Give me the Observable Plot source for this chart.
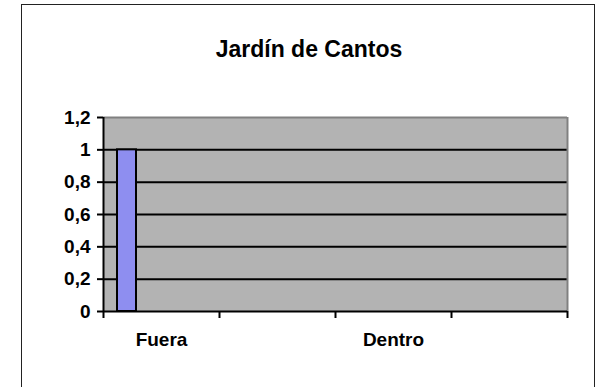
<!DOCTYPE html>
<html>
<head>
<meta charset="utf-8">
<script src="https://cdn.jsdelivr.net/npm/d3@7"></script>
<script src="https://cdn.jsdelivr.net/npm/@observablehq/plot@0.6"></script>
<style>
  html, body { margin: 0; padding: 0; background: #fff; }
  #wrap { position: relative; width: 602px; height: 387px; overflow: hidden; font-family: Arial, "Liberation Sans", sans-serif; }
  #frame { position: absolute; left: 21px; top: 4px; width: 574px; height: 420px; border: 1.5px solid #222; box-sizing: border-box; }
  #title { position: absolute; left: 22px; width: 574px; top: 36px; text-align: center; font-weight: bold; font-size: 23px; color: #000; }
  #chart { position: absolute; left: 0; top: 0; }
</style>
</head>
<body>
<div id="wrap">
  <div id="frame"></div>
  <div id="title">Jardín de Cantos</div>
  <div id="chart"></div>
</div>
<script>
// Category slots along the x axis (labels shown under every other slot)
const xTickLabels = ["Fuera", "", "Dentro", ""];
// Series values per slot (only the first slot has a bar)
const values = [1, null, null, null];
// Y-axis ticks
const yTicks = [0, 0.2, 0.4, 0.6, 0.8, 1, 1.2];
const yTickLabels = ["0", "0,2", "0,4", "0,6", "0,8", "1", "1,2"];

const slots = xTickLabels.map((label, i) => ({i, label, value: values[i]}));
const bars = slots.filter(d => d.value != null);
const boundaries = d3.range(xTickLabels.length + 1);
const labelPositions = xTickLabels.map((_, i) => i + 0.5);

const chart = Plot.plot({
  width: 602,
  height: 387,
  marginLeft: 103,
  marginRight: 35,
  marginTop: 117,
  marginBottom: 76,
  style: {fontFamily: "Arial, 'Liberation Sans', sans-serif", background: "transparent", overflow: "visible"},
  x: {type: "linear", domain: [0, xTickLabels.length]},
  y: {domain: [0, 1.2]},
  marks: [
    Plot.frame({fill: "#b3b3b3", stroke: "none"}),
    Plot.ruleY(yTicks.filter(t => t > 0 && t < 1.2), {stroke: "#000", strokeWidth: 2}),
    Plot.ruleY([1.2], {stroke: "#808080", strokeWidth: 2}),
    Plot.ruleX([xTickLabels.length], {stroke: "#808080", strokeWidth: 2}),
    Plot.rectY(bars, {x1: d => d.i, x2: d => d.i + 1, y: "value", fill: "#8e8ef0", stroke: "#000", strokeWidth: 2, insetLeft: 14, insetRight: 83}),
    Plot.ruleX([0], {stroke: "#000", strokeWidth: 2}),
    Plot.ruleY([0], {stroke: "#000", strokeWidth: 2}),
    Plot.axisY({ticks: yTicks, tickFormat: d => yTickLabels[yTicks.indexOf(d)], tickSize: 6, tickPadding: 7, stroke: "#000", strokeWidth: 2, fontSize: 19, fontWeight: "bold", fill: "#000", label: null}),
    Plot.axisX({ticks: boundaries, tickFormat: () => "", tickSize: 7, stroke: "#000", strokeWidth: 2, label: null}),
    Plot.axisX({ticks: labelPositions, tickFormat: d => xTickLabels[Math.floor(d)], tickSize: 0, tickPadding: 21, fontSize: 19, fontWeight: "bold", fill: "#000", label: null})
  ]
});
document.getElementById("chart").appendChild(chart);
</script>
</body>
</html>
